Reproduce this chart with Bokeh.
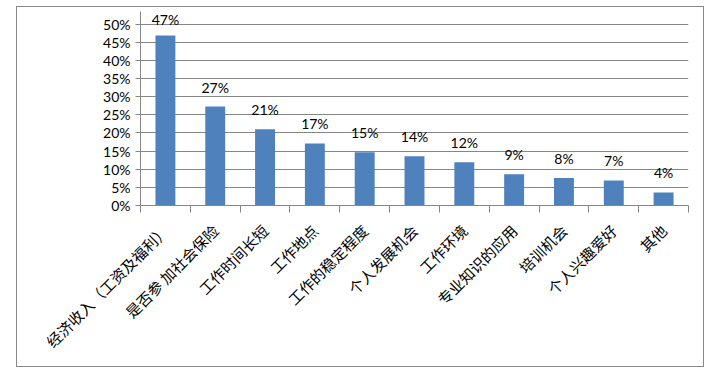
import math
import numpy as np
from bokeh.plotting import figure
from bokeh.models import Range1d, FixedTicker, NumeralTickFormatter, ColumnDataSource
from bokeh.core.properties import value
from bokeh.embed import file_html
from bokeh.resources import INLINE

categories = ["经济收入（工资及福利）", "是否参 加社会保险", "工作时间长短", "工作地点",
              "工作的稳定程度", "个人发展机会", "工作环境", "专业知识的应用",
              "培训机会", "个人兴趣爱好", "其他"]
shares = [0.469, 0.273, 0.210, 0.171, 0.147, 0.136, 0.119, 0.086, 0.076, 0.069, 0.036]
y_ticks = [0.0, 0.05, 0.10, 0.15, 0.20, 0.25, 0.30, 0.35, 0.40, 0.45, 0.50]

n = len(categories)
centers = [i + 0.5 for i in range(n)]
bounds = [float(i) for i in range(n + 1)]
labels = [f"{round(v * 100)}%" for v in shares]

src = ColumnDataSource(dict(x=centers, top=shares, ly=list(np.minimum(shares, 0.46)), lab=labels))

GRAY = "#868686"
p = figure(width=688, height=361, x_range=Range1d(0, n), y_range=Range1d(0, 0.535),
           output_backend="svg", toolbar_location=None,
           min_border_left=123, min_border_right=17, min_border_top=4, min_border_bottom=163)
p.styles = {"margin-left": "16px", "margin-top": "6px", "border": "1px solid #898989"}
p.outline_line_color = None
p.background_fill_color = "white"
p.border_fill_color = "white"

p.vbar(x="x", top="top", bottom=0, width=0.4, source=src, fill_color="#4F81BD", line_color=None)
p.text(x="x", y="ly", text="lab", source=src, text_align="center", text_baseline="bottom",
       y_offset=-11, text_font=value("Lato"), text_font_size="14px", text_color="#000000")

p.xgrid.visible = False
p.ygrid.ticker = FixedTicker(ticks=y_ticks)
p.ygrid.grid_line_color = GRAY

ya = p.yaxis[0]
ya.ticker = FixedTicker(ticks=y_ticks)
ya.formatter = NumeralTickFormatter(format="0%")
ya.axis_line_color = GRAY
ya.major_tick_line_color = GRAY
ya.major_tick_out = 5
ya.major_tick_in = 0
ya.minor_tick_line_color = None
ya.major_label_standoff = 5
ya.major_label_text_font = "Lato"
ya.major_label_text_font_size = "14px"
ya.major_label_text_color = "#000000"

xa = p.xaxis[0]
xa.ticker = FixedTicker(ticks=centers, minor_ticks=bounds)
xa.major_label_overrides = {c: name for c, name in zip(centers, categories)}
xa.axis_line_color = GRAY
xa.major_tick_line_color = None
xa.minor_tick_line_color = GRAY
xa.minor_tick_out = 7
xa.minor_tick_in = 0
xa.major_label_orientation = math.pi / 4
xa.major_label_standoff = 15
xa.major_label_text_font = "Noto Sans CJK SC"
xa.major_label_text_font_size = "15px"
xa.major_label_text_color = "#000000"

open("out.html", "w").write(file_html(p, INLINE))
